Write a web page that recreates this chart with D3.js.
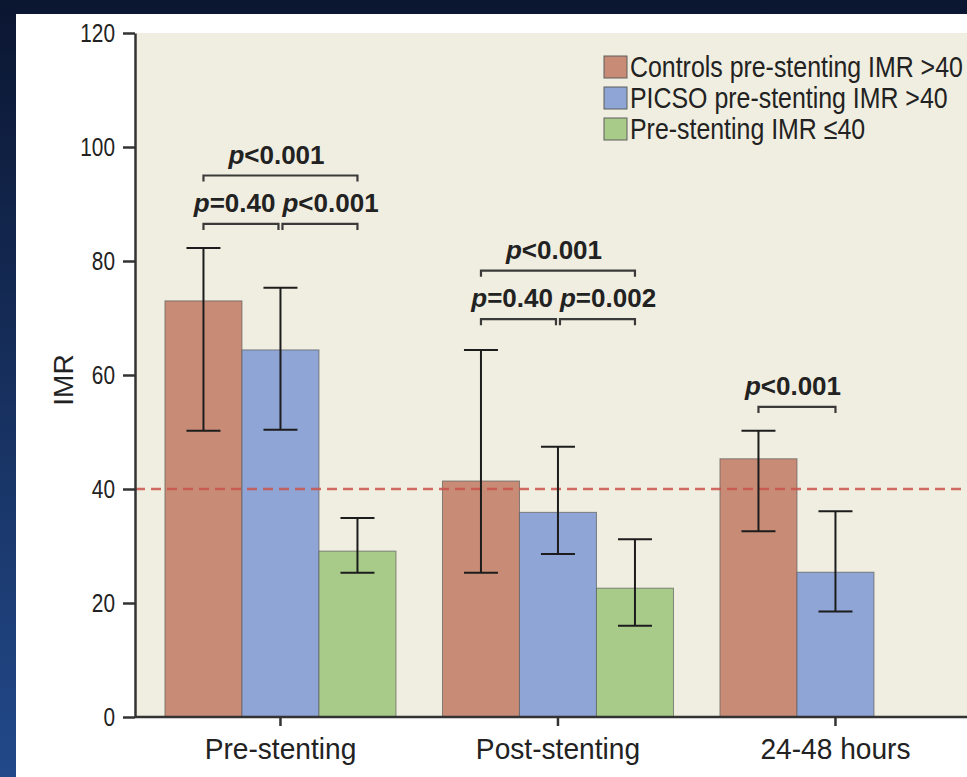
<!DOCTYPE html>
<html>
<head>
<meta charset="utf-8">
<script src="https://cdn.jsdelivr.net/npm/d3@7"></script>
<style>
  body { margin: 0; padding: 0; background: #0c1834; overflow: hidden; }
  .tick text { fill: #222; }
</style>
</head>
<body>
<script>
// IMR by time point, grouped bar chart with error bars and p-value brackets

// groups on the x axis
var groups = ["Pre-stenting", "Post-stenting", "24-48 hours"];

// series names (legend)
var seriesNames = ["Controls pre-stenting IMR >40", "PICSO pre-stenting IMR >40", "Pre-stenting IMR \u226440"];
var seriesColors = ["#c88b76", "#8ea5d5", "#a8cb8a"];

// bar heights and error bar ends, one array per series
var controlsMean = [73.0, 41.4, 45.3];
var controlsLow  = [50.2, 25.3, 32.6];
var controlsHigh = [82.3, 64.4, 50.2];

var picsoMean = [64.4, 35.9, 25.4];
var picsoLow  = [50.4, 28.6, 18.5];
var picsoHigh = [75.3, 47.4, 36.1];

var lowImrMean = [29.1, 22.6, null];
var lowImrLow  = [25.3, 16.0, null];
var lowImrHigh = [34.9, 31.2, null];

// y ticks and the reference line
var yTicks = [0, 20, 40, 60, 80, 100, 120];
var cutoff = 40;

// p-value brackets: group index, first bar, last bar, bracket level (IMR units), text
var pGroup = [0, 0, 0, 1, 1, 1, 2];
var pFrom  = [0, 0, 1, 0, 0, 1, 0];
var pTo    = [2, 1, 2, 2, 1, 2, 1];
var pLevel = [95.0, 86.5, 86.5, 78.3, 69.8, 69.8, 54.4];
var pSign  = ["<0.001", "=0.40", "<0.001", "<0.001", "=0.40", "=0.002", "<0.001"];

var W = 967, H = 777;
var margin = {left: 135, top: 33};
var plotBottom = 717;
var sans = "'Liberation Sans', Arial, sans-serif";

// squeeze a text horizontally (no narrow font installed)
function condense(sel, f) {
    sel.each(function() {
        var w = this.getComputedTextLength();
        d3.select(this)
            .attr("textLength", w * f)
            .attr("lengthAdjust", "spacingAndGlyphs");
    });
}

var svg = d3.select("body").append("svg")
    .attr("width", W)
    .attr("height", H);

// dark blue frame
var defs = svg.append("defs");
var grad = defs.append("linearGradient")
    .attr("id", "bg")
    .attr("x1", 0).attr("y1", 0).attr("x2", 0).attr("y2", 1);
grad.append("stop").attr("offset", "0%").attr("stop-color", "#0b1631");
grad.append("stop").attr("offset", "100%").attr("stop-color", "#22498a");

svg.append("rect")
    .attr("width", W).attr("height", H)
    .attr("fill", "url(#bg)");

// white page
svg.append("rect")
    .attr("x", 16).attr("y", 14)
    .attr("width", W - 16).attr("height", H - 14)
    .attr("fill", "#ffffff");

// scales
var yScale = d3.scaleLinear().domain([0, 120]).range([plotBottom, margin.top]);

var step = 277.5;
var xScale = d3.scaleBand()
    .domain(groups)
    .range([margin.left, margin.left + step * (3 - 0.1676 + 2 * 0.108)])
    .paddingInner(0.1676)
    .paddingOuter(0.108);

var xInner = d3.scaleBand()
    .domain([0, 1, 2])
    .range([0, xScale.bandwidth()]);

// beige plot area
svg.append("rect")
    .attr("x", margin.left)
    .attr("y", margin.top)
    .attr("width", W - margin.left)
    .attr("height", plotBottom - margin.top)
    .attr("fill", "#f0eee0");

// build rows for bars
var means = [controlsMean, picsoMean, lowImrMean];
var lows = [controlsLow, picsoLow, lowImrLow];
var highs = [controlsHigh, picsoHigh, lowImrHigh];

var rows = [];
groups.forEach(function(g, gi) {
    for (var s = 0; s < 3; s++) {
        if (means[s][gi] == null) continue;
        rows.push({group: g, series: s, mean: means[s][gi], low: lows[s][gi], high: highs[s][gi]});
    }
});

// bars
svg.selectAll(".bar")
    .data(rows)
    .enter().append("rect")
    .attr("class", "bar")
    .attr("x", function(d) { return xScale(d.group) + xInner(d.series); })
    .attr("y", function(d) { return yScale(d.mean); })
    .attr("width", xInner.bandwidth())
    .attr("height", function(d) { return yScale(0) - yScale(d.mean); })
    .attr("fill", function(d) { return seriesColors[d.series]; })
    .attr("stroke", "#5c5c5c")
    .attr("stroke-opacity", 0.7)
    .attr("stroke-width", 1);

// dashed line at IMR 40
svg.append("line")
    .attr("x1", margin.left)
    .attr("x2", W)
    .attr("y1", yScale(cutoff))
    .attr("y2", yScale(cutoff))
    .attr("stroke", "#c9534c")
    .attr("stroke-opacity", 0.85)
    .attr("stroke-width", 2.5)
    .attr("stroke-dasharray", "10,6");

// error bars
var capHalf = 17;
var err = svg.selectAll(".err")
    .data(rows)
    .enter().append("g")
    .attr("class", "err")
    .attr("transform", function(d) {
        return "translate(" + (xScale(d.group) + xInner(d.series) + xInner.bandwidth() / 2) + ",0)";
    })
    .attr("stroke", "#1c1c1c")
    .attr("stroke-width", 2);

err.append("line")
    .attr("y1", function(d) { return yScale(d.low); })
    .attr("y2", function(d) { return yScale(d.high); });
err.append("line")
    .attr("x1", -capHalf).attr("x2", capHalf)
    .attr("y1", function(d) { return yScale(d.high); })
    .attr("y2", function(d) { return yScale(d.high); });
err.append("line")
    .attr("x1", -capHalf).attr("x2", capHalf)
    .attr("y1", function(d) { return yScale(d.low); })
    .attr("y2", function(d) { return yScale(d.low); });

// y axis
var yAxis = d3.axisLeft(yScale)
    .tickValues(yTicks)
    .tickSize(12)
    .tickSizeOuter(0)
    .tickPadding(8);

var yg = svg.append("g")
    .attr("transform", "translate(" + margin.left + ",0)")
    .call(yAxis);
yg.select(".domain").attr("stroke", "#333").attr("stroke-width", 2.5);
yg.selectAll(".tick line").attr("stroke", "#333").attr("stroke-width", 2.5);
yg.selectAll(".tick text")
    .style("font-family", sans)
    .style("font-size", "26px")
    .call(condense, 0.8);

// x axis
var xAxis = d3.axisBottom(xScale)
    .tickSize(9)
    .tickSizeOuter(0)
    .tickPadding(12);

var xg = svg.append("g")
    .attr("transform", "translate(0," + plotBottom + ")")
    .call(xAxis);
xg.select(".domain")
    .attr("d", "M" + margin.left + ",0H" + W)
    .attr("stroke", "#333").attr("stroke-width", 2.5);
xg.selectAll(".tick line").attr("stroke", "#333").attr("stroke-width", 2.5);
xg.selectAll(".tick text")
    .style("font-family", sans)
    .style("font-size", "29px")
    .call(condense, 0.97);

// y axis title
svg.append("text")
    .attr("transform", "translate(73,380) rotate(-90)")
    .attr("text-anchor", "middle")
    .style("font-family", sans)
    .style("font-size", "28px")
    .attr("fill", "#222")
    .text("IMR");

// p-value brackets
function barCenter(gi, s) {
    return xScale(groups[gi]) + xInner(s) + xInner.bandwidth() / 2;
}

pGroup.forEach(function(gi, i) {
    var x1 = barCenter(gi, pFrom[i]);
    var x2 = barCenter(gi, pTo[i]);
    var y = yScale(pLevel[i]);

    // is there a neighbour bracket on the same level?
    var paired = false;
    pGroup.forEach(function(gj, j) {
        if (j != i && gj == gi && pLevel[j] == pLevel[i]) paired = true;
    });
    if (paired && pFrom[i] == 0) x2 -= 2;
    if (paired && pFrom[i] == 1) x1 += 2;

    svg.append("path")
        .attr("d", "M" + x1 + "," + (y + 6) + "V" + y + "H" + x2 + "V" + (y + 6))
        .attr("fill", "none")
        .attr("stroke", "#3a3a3a")
        .attr("stroke-width", 2.2);

    var anchor = "middle", tx = (x1 + x2) / 2 - 4;
    if (paired && pFrom[i] == 0) { anchor = "end"; tx = x2 - 3; }
    if (paired && pFrom[i] == 1) { anchor = "start"; tx = x1; }

    var t = svg.append("text")
        .attr("x", tx)
        .attr("y", y - 12)
        .attr("text-anchor", anchor)
        .style("font-family", sans)
        .style("font-size", "26px")
        .style("font-weight", "bold")
        .attr("fill", "#222");
    t.append("tspan").style("font-style", "italic").text("p");
    t.append("tspan").text(pSign[i]);
});

// legend
var legend = svg.selectAll(".legend")
    .data(seriesNames)
    .enter().append("g")
    .attr("class", "legend")
    .attr("transform", function(d, i) { return "translate(604," + (56 + i * 31) + ")"; });

legend.append("rect")
    .attr("width", 23)
    .attr("height", 22)
    .attr("fill", function(d, i) { return seriesColors[i]; })
    .attr("stroke", "#5c5c5c")
    .attr("stroke-width", 1);

legend.append("text")
    .attr("x", 26)
    .attr("y", 21)
    .style("font-family", sans)
    .style("font-size", "30px")
    .attr("fill", "#222")
    .text(function(d) { return d; })
    .call(condense, 0.83);
</script>
</body>
</html>
